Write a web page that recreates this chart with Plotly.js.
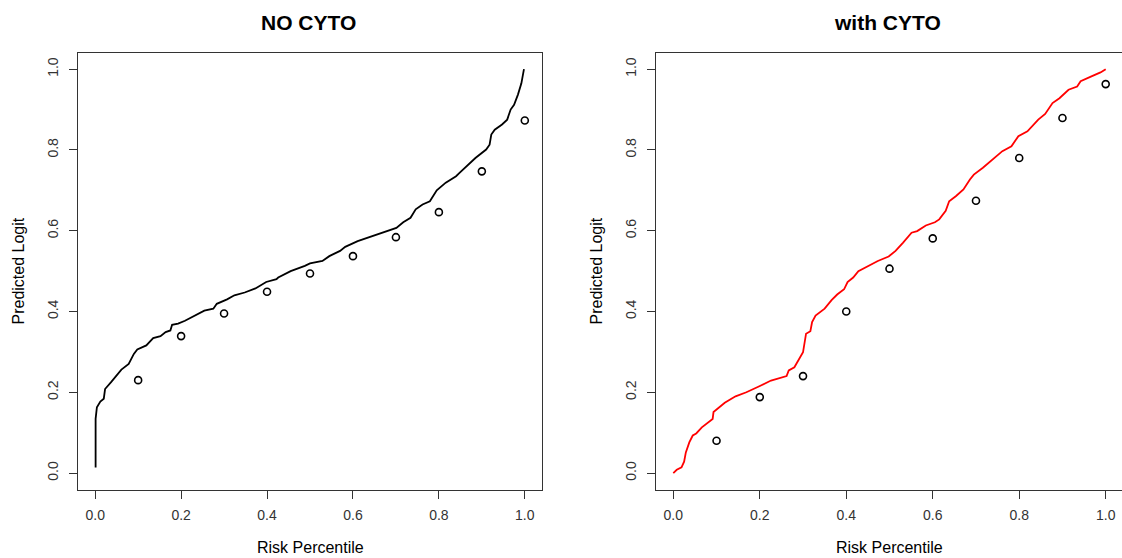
<!DOCTYPE html>
<html>
<head>
<meta charset="utf-8">
<script src="https://cdn.plot.ly/plotly-3.0.1.min.js"></script>
<style>
html, body { margin: 0; padding: 0; overflow: hidden; background: #fff; }
#chart { width: 1124px; height: 558px; }
</style>
</head>
<body>
<div id="chart"></div>
<script>
// ---- data ----
var panelTitles = ["NO CYTO", "with CYTO"];
var xAxisTitle = "Risk Percentile";
var yAxisTitle = "Predicted Logit";
var tickVals = [0, 0.2, 0.4, 0.6, 0.8, 1.0];
var tickText = ["0.0", "0.2", "0.4", "0.6", "0.8", "1.0"];

// NO CYTO curve (sorted predictions vs percentile)
var noCytoX = [0.001, 0.001, 0.004, 0.012, 0.020, 0.023, 0.037, 0.049, 0.061, 0.078, 0.090, 0.098, 0.119, 0.135, 0.152, 0.164, 0.175, 0.179, 0.193, 0.209, 0.230, 0.254, 0.275, 0.283, 0.307, 0.324, 0.348, 0.373, 0.398, 0.422,
  0.426, 0.455, 0.488, 0.500, 0.529, 0.545, 0.570, 0.582, 0.611, 0.635, 0.668, 0.701, 0.717, 0.734, 0.746, 0.762, 0.779, 0.795, 0.816, 0.840, 0.848, 0.865, 0.885, 0.910, 0.918, 0.922, 0.930, 0.947, 0.959, 0.967, 0.975, 0.984, 0.992, 0.998];
var noCytoY = [0.014, 0.134, 0.163, 0.177, 0.184, 0.208, 0.225, 0.241, 0.256, 0.270, 0.295, 0.306, 0.316, 0.334, 0.339, 0.349, 0.353, 0.367, 0.370, 0.377, 0.388, 0.402, 0.407, 0.419, 0.430, 0.440, 0.447, 0.457, 0.473, 0.480,
  0.484, 0.500, 0.513, 0.519, 0.525, 0.537, 0.550, 0.560, 0.574, 0.583, 0.595, 0.607, 0.621, 0.632, 0.653, 0.665, 0.673, 0.700, 0.719, 0.735, 0.743, 0.761, 0.780, 0.801, 0.813, 0.838, 0.850, 0.863, 0.875, 0.900, 0.912, 0.937, 0.965, 1.000];

// with CYTO curve
var withCytoX = [0.000, 0.008, 0.019, 0.025, 0.029, 0.037, 0.045, 0.053, 0.066, 0.078, 0.091, 0.093, 0.103, 0.119, 0.144, 0.169, 0.199, 0.226, 0.262, 0.267, 0.280, 0.291, 0.300, 0.307, 0.317, 0.321, 0.329, 0.350, 0.366, 0.379, 0.395, 0.403, 0.416,
  0.428, 0.457, 0.473, 0.498, 0.514, 0.531, 0.551, 0.564, 0.584, 0.605, 0.615, 0.630, 0.638, 0.654, 0.671, 0.686, 0.695, 0.716, 0.737, 0.761, 0.782, 0.798, 0.819, 0.844, 0.860, 0.877, 0.893, 0.914, 0.934, 0.942, 0.967, 0.988, 1.000];
var withCytoY = [0.000, 0.008, 0.014, 0.028, 0.051, 0.076, 0.093, 0.098, 0.113, 0.124, 0.134, 0.151, 0.159, 0.174, 0.190, 0.200, 0.215, 0.229, 0.240, 0.254, 0.262, 0.283, 0.299, 0.345, 0.351, 0.374, 0.390, 0.407, 0.428, 0.442, 0.455, 0.473, 0.484,
  0.500, 0.517, 0.525, 0.536, 0.550, 0.570, 0.595, 0.599, 0.613, 0.621, 0.628, 0.649, 0.673, 0.686, 0.702, 0.727, 0.739, 0.756, 0.776, 0.797, 0.809, 0.834, 0.846, 0.875, 0.889, 0.916, 0.928, 0.949, 0.957, 0.970, 0.982, 0.992, 1.000];

// observed points at deciles
var decileX = [0.1, 0.2, 0.3, 0.4, 0.5, 0.6, 0.7, 0.8, 0.9, 1.0];
var noCytoPts = [0.230, 0.339, 0.395, 0.449, 0.494, 0.537, 0.584, 0.646, 0.747, 0.873];
var withCytoPts = [0.080, 0.188, 0.240, 0.400, 0.506, 0.581, 0.674, 0.780, 0.879, 0.963];

// ---- drawing ----
var W = 1124, H = 558;
var FONT = "Liberation Sans, Arial, sans-serif";
var boxL = [78, 656], boxR = [542, 1123], boxT = 53, boxB = 490;

var traces = [
  {x: noCytoX, y: noCytoY, xaxis: "x", yaxis: "y", mode: "lines", line: {color: "#000000", width: 1.8}, hoverinfo: "skip"},
  {x: decileX, y: noCytoPts, xaxis: "x", yaxis: "y", mode: "markers", marker: {symbol: "circle-open", size: 7, color: "#000000", line: {width: 1.6}}, hoverinfo: "skip"},
  {x: withCytoX, y: withCytoY, xaxis: "x2", yaxis: "y2", mode: "lines", line: {color: "#ff0000", width: 1.8}, hoverinfo: "skip"},
  {x: decileX, y: withCytoPts, xaxis: "x2", yaxis: "y2", mode: "markers", marker: {symbol: "circle-open", size: 7, color: "#000000", line: {width: 1.6}}, hoverinfo: "skip"}
];

function xAx(i) {
  return {
    domain: [boxL[i] / W, boxR[i] / W], range: [-0.04, 1.04], anchor: i === 0 ? "y" : "y2",
    showgrid: false, zeroline: false, showline: true, mirror: true, linecolor: "#333", linewidth: 1,
    ticks: "outside", ticklen: 8, tickcolor: "#333", tickwidth: 1,
    tickvals: tickVals, ticktext: tickText, tickfont: {family: FONT, size: 14, color: "#333"},
    ticklabelstandoff: 4, fixedrange: true
  };
}
function yAx(i) {
  return {
    domain: [(H - boxB) / H, (H - boxT) / H], range: [-0.042, 1.040], anchor: i === 0 ? "x" : "x2",
    showgrid: false, zeroline: false, showline: true, mirror: true, linecolor: "#333", linewidth: 1,
    ticks: "outside", ticklen: 8, tickcolor: "#333", tickwidth: 1,
    tickvals: tickVals, ticktext: tickText, tickangle: -90, tickfont: {family: FONT, size: 14, color: "#333"},
    ticklabelstandoff: 5, fixedrange: true
  };
}

var annotations = [];
for (var i = 0; i < 2; i++) {
  var cx = (boxL[i] + boxR[i]) / 2;
  annotations.push({text: "<b>" + panelTitles[i] + "</b>", xref: "paper", yref: "paper", x: (cx - 2) / W, y: 1 - 22 / H,
    xanchor: "center", yanchor: "middle", showarrow: false, font: {family: FONT, size: 21, color: "#000"}});
  annotations.push({text: xAxisTitle, xref: "paper", yref: "paper", x: cx / W, y: 1 - 547 / H,
    xanchor: "center", yanchor: "middle", showarrow: false, font: {family: FONT, size: 16, color: "#000"}});
  annotations.push({text: yAxisTitle, xref: "paper", yref: "paper", x: (boxL[i] - 60) / W, y: 1 - ((boxT + boxB) / 2) / H,
    xanchor: "center", yanchor: "middle", textangle: -90, showarrow: false, font: {family: FONT, size: 16, color: "#000"}});
}

var layout = {
  width: W, height: H, margin: {l: 0, r: 0, t: 0, b: 0, pad: 0},
  paper_bgcolor: "#fff", plot_bgcolor: "#fff", showlegend: false,
  xaxis: xAx(0), yaxis: yAx(0), xaxis2: xAx(1), yaxis2: yAx(1),
  annotations: annotations
};

Plotly.newPlot("chart", traces, layout, {displayModeBar: false, staticPlot: true});
</script>
</body>
</html>
